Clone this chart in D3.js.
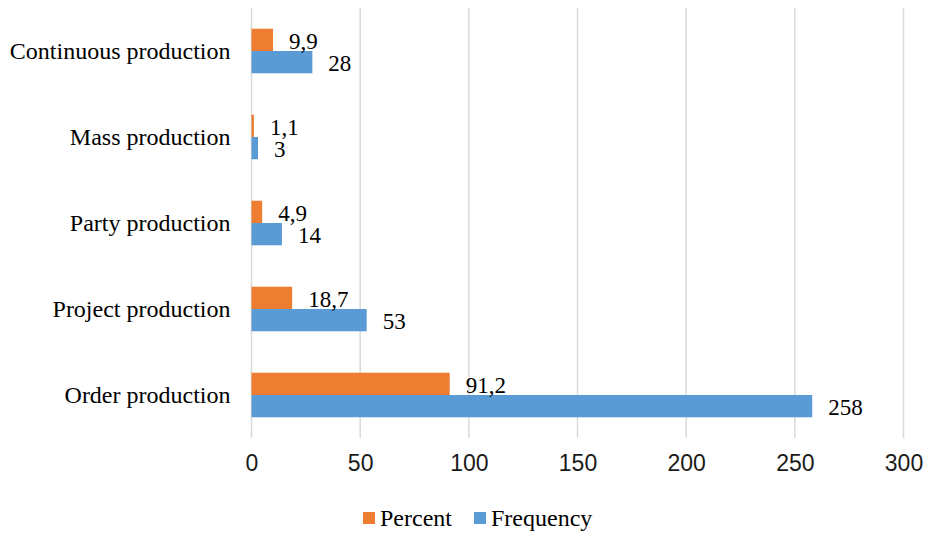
<!DOCTYPE html>
<html>
<head>
<meta charset="utf-8">
<script src="https://cdn.jsdelivr.net/npm/d3@7"></script>
<style>
  html, body { margin: 0; padding: 0; background: #fff; }
  svg { display: block; }
</style>
</head>
<body>
<svg id="chart" width="926" height="533"></svg>
<script>
// Production types, listed top to bottom
const categories = ["Continuous production", "Mass production", "Party production", "Project production", "Order production"];
const percentValues = [9.9, 1.1, 4.9, 18.7, 91.2];
const percentLabels = ["9,9", "1,1", "4,9", "18,7", "91,2"];
const frequencyValues = [28, 3, 14, 53, 258];
const frequencyLabels = ["28", "3", "14", "53", "258"];
const xTicks = [0, 50, 100, 150, 200, 250, 300];
const seriesNames = ["Percent", "Frequency"];
const seriesColors = ["#ED7D31", "#5B9BD5"];

const svg = d3.select("#chart");
const margin = { left: 251.5, right: 22.5, top: 8, bottom: 95 };
const W = 926, H = 533;
const serif = "'Liberation Serif', 'Times New Roman', serif";

const x = d3.scaleLinear().domain([0, 300]).range([margin.left, W - margin.right]);
const y = d3.scaleBand().domain(categories).range([margin.top, H - margin.bottom]);
const inner = d3.scaleBand().domain(seriesNames).range([0, y.bandwidth()]).paddingInner(0).paddingOuter(0.93);

// Vertical gridlines
svg.append("g")
  .selectAll("line")
  .data(xTicks)
  .join("line")
  .attr("x1", d => x(d)).attr("x2", d => x(d))
  .attr("y1", margin.top).attr("y2", H - margin.bottom)
  .attr("stroke", "#d9d9d9")
  .attr("stroke-width", 1.5);

// X axis tick labels
const xAxis = d3.axisBottom(x).tickValues(xTicks).tickSize(0).tickPadding(0);
const gx = svg.append("g")
  .attr("transform", `translate(0,${H - margin.bottom + 17})`)
  .call(xAxis);
gx.select(".domain").remove();
gx.selectAll("text")
  .attr("font-family", "'Liberation Sans', Arial, sans-serif")
  .attr("font-size", 23)
  .attr("fill", "#1a1a1a")
  .attr("dy", "0.71em");

// Category labels
const yAxis = d3.axisLeft(y).tickSize(0).tickPadding(21);
const gy = svg.append("g")
  .attr("transform", `translate(${margin.left},0)`)
  .call(yAxis);
gy.select(".domain").remove();
gy.selectAll("text")
  .attr("font-family", serif)
  .attr("font-size", 24)
  .attr("fill", "#000");

const rows = categories.map((c, i) => ({
  cat: c,
  values: [
    { s: seriesNames[0], v: percentValues[i], label: percentLabels[i], color: seriesColors[0] },
    { s: seriesNames[1], v: frequencyValues[i], label: frequencyLabels[i], color: seriesColors[1] }
  ]
}));

const groups = svg.append("g")
  .selectAll("g")
  .data(rows)
  .join("g")
  .attr("transform", d => `translate(0,${y(d.cat)})`);

groups.selectAll("rect")
  .data(d => d.values)
  .join("rect")
  .attr("x", x(0))
  .attr("y", d => inner(d.s))
  .attr("width", d => x(d.v) - x(0))
  .attr("height", inner.bandwidth())
  .attr("fill", d => d.color);

groups.selectAll("text")
  .data(d => d.values)
  .join("text")
  .attr("x", d => x(d.v) + 16)
  .attr("y", d => inner(d.s) + inner.bandwidth() / 2 + 1)
  .attr("dy", "0.35em")
  .attr("font-family", serif)
  .attr("font-size", 23)
  .attr("fill", "#000")
  .text(d => d.label);

// Legend
const legendItems = [
  { name: seriesNames[0], color: seriesColors[0], x: 363 },
  { name: seriesNames[1], color: seriesColors[1], x: 474 }
];
const legend = svg.append("g");
legend.selectAll("rect")
  .data(legendItems)
  .join("rect")
  .attr("x", d => d.x).attr("y", 512)
  .attr("width", 12).attr("height", 12)
  .attr("fill", d => d.color);
legend.selectAll("text")
  .data(legendItems)
  .join("text")
  .attr("x", d => d.x + 17)
  .attr("y", 518)
  .attr("dy", "0.35em")
  .attr("font-family", serif)
  .attr("font-size", 24)
  .attr("fill", "#000")
  .text(d => d.name);
</script>
</body>
</html>
